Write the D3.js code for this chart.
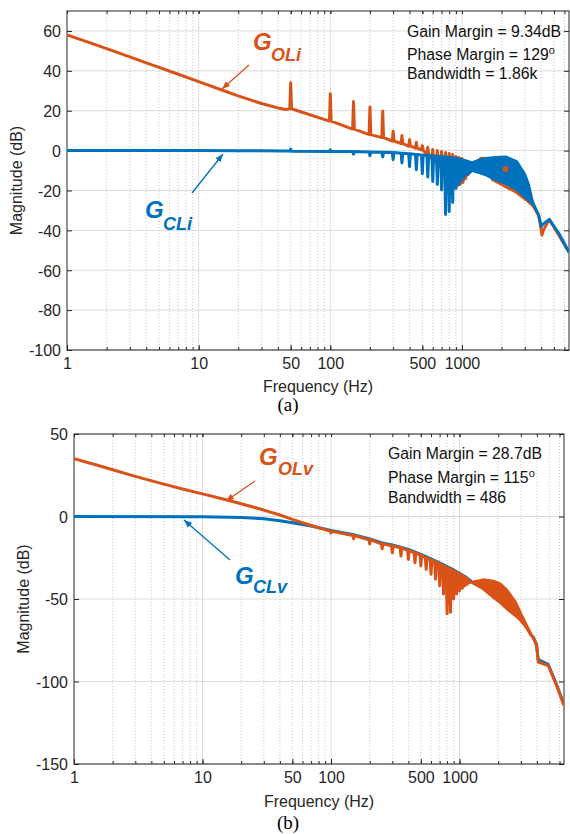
<!DOCTYPE html>
<html>
<head>
<meta charset="utf-8">
<script src="https://cdn.jsdelivr.net/npm/d3@7"></script>
<style>
body { margin: 0; background: #fff; }
svg text { font-family: Arial, 'Liberation Sans', Helvetica, sans-serif; }
</style>
</head>
<body>
<div id="chart"></div>
<script>
// ---- data ----
let freqTicks = [1, 10, 50, 100, 500, 1000];
let freqGrid = [2,3,4,5,6,7,8,9,10,20,30,40,50,60,70,80,90,100,200,300,400,500,600,700,800,900,1000,2000,3000,4000,5000,6000];
let freqMax = 6500;
let magTicksA = [60, 40, 20, 0, -20, -40, -60, -80, -100];
let magTicksB = [50, 0, -50, -100, -150];

// (a) open loop current, G_OLi
let olLowA = [[1,58],[1.5,54],[2,51.1],[3,47],[4,44],[5,41.7],[7,38.3],[10,34.6],[15,30.4],[20,27.4],[30,23.6],[40,21.4],[46,20.6]];
let harmOlA = [50,100,150,200,250,300,350,400,450,500,550,600,650,700,750,800,850,900,950,1000,1050,1100,1150,1200];
let olBaseA = [21,14.8,10.8,8,6.5,4.8,3.5,2.2,1.2,0.3,-2,-4,-6,-8,-11,-14,-17,-18,-17,-16,-14,-12,-10.5,-9.5];
let olPeakA = [34,28.5,24.6,21.9,19.8,9.7,7.6,5.5,4.2,2.5,1.7,0.5,0,-0.5,-1,-1.5,-2,-3,-3.5,-4,-5,-6,-7,-8];
let olHighA = [[1300,-5.5],[1400,-3.8],[1500,-4],[1600,-8.5],[1700,-14.5],[2000,-17],[2600,-21],[3200,-25.6],[3500,-28],[3850,-33],[4000,-40],[4050,-42.4],[4150,-40],[4600,-34.5],[5500,-43],[6500,-51]];
let olMarkA = [[2143,-9.2]];

// (a) closed loop current, G_CLi
let clLowA = [[1,0],[10,0],[20,-0.05],[30,-0.1],[45,-0.2],[49.5,-0.2],[50,0.8],[50.5,-0.3],[99,-0.4],[100,0.4],[101,-0.5],[140,-0.5]];
let harmClA = [150,200,250,300,350,400,450,500,550,600,650,700,750,800,850,900,950,1000,1050,1100,1150,1200];
let clTopA = [-0.5,-0.7,-0.8,-1,-1.3,-1.6,-2,-2.2,-2.4,-2.6,-2.8,-3,-3.2,-3.4,-3.6,-3.9,-4.2,-4.6,-5,-5.4,-5.8,-6.2];
let clNotchA = [-1.8,-2.5,-3.2,-4.5,-6.2,-8,-9.6,-11.6,-13.3,-15.5,-17,-19.7,-32,-30.6,-26,-19,-17,-15,-13,-12,-11,-10];
let clBandA = [[1200,-10,-6],[1350,-11,-4.8],[1500,-12,-4],[1800,-14.6,-3.5],[2150,-16.5,-3.2],[2600,-19.5,-5.5],[3000,-23,-12],[3200,-24.7,-17],[3400,-26,-24.7],[3500,-27,-27]];
let clHighA = [[3500,-27],[3800,-32],[4000,-38],[4100,-37],[4600,-34.5],[5500,-42],[6500,-51]];

// (b) open loop voltage, G_OLv
let olLowB = [[1,35],[1.5,31.2],[2,28.3],[3,24.3],[5,19.6],[7,16.7],[10,13.7],[15,10.3],[20,7.7],[30,3.9],[40,0.9],[50,-1.7],[60,-3.8],[80,-6.8],[97,-8.7]];
let harmB = [100,150,200,250,300,350,400,450,500,550,600,650,700,750,800,850,900,950,1000,1050,1100,1150,1200];
let olBaseB = [-8.9,-11.5,-14.1,-16.6,-17.8,-19,-20.5,-22,-23.5,-25,-26.3,-27.5,-28.7,-29.8,-31,-32,-33,-34,-35,-36,-37,-38,-39];
let olNotchB = [-10,-13.5,-16.6,-19.6,-22,-24,-26,-28,-30,-32,-35,-38,-42,-47,-59,-58,-50,-47,-45,-43.5,-42,-41,-40];
let olBandB = [[1240,-39.8,-39.8],[1530,-43.8,-38.4],[1830,-48.9,-39.2],[2070,-52,-40.8],[2340,-55.9,-44.8],[2720,-60,-51.9],[3000,-63,-59],[3300,-67,-65.5],[3600,-72,-71.5],[3720,-73,-73]];
let olHighB = [[3720,-73],[3970,-78],[4050,-84],[4100,-88.3],[4900,-90.3],[5600,-101],[6500,-114.5]];

// (b) closed loop voltage, G_CLv
let clB = [[1,0],[10,-0.1],[20,-0.6],[30,-1.4],[40,-2.6],[50,-3.8],[70,-5.8],[100,-8.4],[150,-11],[200,-13.6],[250,-16],[300,-17.2],[400,-19.9],[500,-22.9],[600,-25.7],[700,-28.1],[800,-30.4],[900,-32.4],[1000,-34.4],[1100,-36.4],[1240,-39.3]];
let clHighB = [[3720,-72.5],[3970,-77.5],[4100,-86.8],[4500,-88.3],[4900,-89.6],[5600,-100.5],[6500,-114]];

let orange = '#D95319';
let blue = '#0072BD';
let axisColor = '#262626';

// comb of narrow spikes/notches at the harmonics
function comb(harm, base, peak) {
	let pts = [];
	for (let i = 0; i < harm.length; i++) {
		pts.push([harm[i] * 0.985, base[i]]);
		pts.push([harm[i], peak[i]]);
		pts.push([harm[i] * 1.015, base[i]]);
	}
	return pts;
}

let width = 570;
let height = 834;
let svg = d3.select('#chart').append('svg')
	.attr('width', width)
	.attr('height', height);

let defs = svg.append('defs');
[['arrowOrange', orange], ['arrowBlue', blue]].forEach(function(m) {
	defs.append('marker')
		.attr('id', m[0])
		.attr('viewBox', '0 0 10 10')
		.attr('refX', 10)
		.attr('refY', 5)
		.attr('markerWidth', 8)
		.attr('markerHeight', 8)
		.attr('markerUnits', 'userSpaceOnUse')
		.attr('orient', 'auto')
		.append('path')
		.attr('d', 'M0,1 L10,5 L0,9 z')
		.attr('fill', m[1]);
});

function drawPanel(p) {
	let x = d3.scaleLog().domain([1, freqMax]).range([p.left, p.right]);
	let y = d3.scaleLinear().domain(p.yDomain).range([p.bottom, p.top]);
	let g = svg.append('g');

	defs.append('clipPath').attr('id', p.id + 'clip')
		.append('rect')
		.attr('x', p.left).attr('y', p.top)
		.attr('width', p.right - p.left).attr('height', p.bottom - p.top);

	// grid
	g.selectAll('.hgrid').data(p.yTicks).enter().append('line')
		.attr('x1', p.left).attr('x2', p.right)
		.attr('y1', d => y(d)).attr('y2', d => y(d))
		.attr('stroke', '#dcdcdc').attr('stroke-width', 1);
	g.selectAll('.vgrid').data(freqGrid).enter().append('line')
		.attr('x1', d => x(d)).attr('x2', d => x(d))
		.attr('y1', p.top).attr('y2', p.bottom)
		.attr('stroke', d => [10, 100, 1000].includes(d) ? '#dcdcdc' : '#c8c8c8')
		.attr('stroke-dasharray', d => [10, 100, 1000].includes(d) ? null : '1,2')
		.attr('stroke-width', 1);

	// axes
	let fmt = d => String(d);
	g.append('g').attr('transform', 'translate(0,' + p.bottom + ')')
		.call(d3.axisBottom(x).tickValues(freqTicks).tickFormat(fmt).tickSize(-5).tickPadding(8));
	g.append('g').attr('transform', 'translate(0,' + p.bottom + ')')
		.call(d3.axisBottom(x).tickValues(freqGrid).tickFormat('').tickSize(-3));
	g.append('g').attr('transform', 'translate(0,' + p.top + ')')
		.call(d3.axisTop(x).tickValues(freqGrid.concat(freqTicks)).tickFormat('').tickSize(-3));
	let ay = g.append('g').attr('transform', 'translate(' + p.left + ',0)')
		.call(d3.axisLeft(y).tickValues(p.yTicks).tickFormat(fmt).tickSize(-5).tickPadding(6));
	g.append('g').attr('transform', 'translate(' + p.right + ',0)')
		.call(d3.axisRight(y).tickValues(p.yTicks).tickFormat('').tickSize(-5));
	g.selectAll('.domain').remove();
	g.selectAll('.tick line').attr('stroke', axisColor);
	g.selectAll('.tick text').attr('fill', axisColor).attr('font-size', 16).attr('font-family', 'Arial, Liberation Sans, sans-serif');
	ay.selectAll('.tick text').attr('dy', '0.36em');

	g.append('rect')
		.attr('x', p.left).attr('y', p.top)
		.attr('width', p.right - p.left).attr('height', p.bottom - p.top)
		.attr('fill', 'none').attr('stroke', axisColor).attr('stroke-width', 1);

	// labels
	g.append('text')
		.attr('x', (p.left + p.right) / 2).attr('y', p.xLabelY)
		.attr('text-anchor', 'middle').attr('font-size', 16).attr('fill', axisColor)
		.text('Frequency (Hz)');
	g.append('text')
		.attr('transform', 'translate(' + p.yLabelX + ',' + (p.top + p.bottom) / 2 + ') rotate(-90)')
		.attr('text-anchor', 'middle').attr('font-size', 16).attr('fill', axisColor)
		.text('Magnitude (dB)');
	g.append('text')
		.attr('x', 288).attr('y', p.captionY)
		.attr('text-anchor', 'middle').attr('font-size', 19)
		.style('font-family', "'Times New Roman', 'Liberation Serif', serif")
		.text(p.caption);

	let info = g.append('g').attr('font-size', 15.8).attr('fill', '#111');
	info.append('text').attr('x', p.infoX).attr('y', p.infoY[0]).text(p.info[0]);
	let ph = info.append('text').attr('x', p.infoX).attr('y', p.infoY[1]).text(p.info[1]);
	ph.append('tspan').attr('dy', -6).attr('font-size', 11).text('o');
	info.append('text').attr('x', p.infoX).attr('y', p.infoY[2]).text(p.info[2]);

	let plot = g.append('g').attr('clip-path', 'url(#' + p.id + 'clip)');
	let line = d3.line().x(d => x(d[0])).y(d => y(d[1]));
	let area = d3.area().x(d => x(d[0])).y0(d => y(d[1])).y1(d => y(d[2]));

	return {x: x, y: y, plot: plot, line: line, area: area, g: g};
}

function curve(c, pts, color) {
	c.plot.append('path').datum(pts)
		.attr('d', c.line)
		.attr('fill', 'none').attr('stroke', color)
		.attr('stroke-width', 3).attr('stroke-linejoin', 'round');
}
function band(c, pts, color) {
	c.plot.append('path').datum(pts)
		.attr('d', c.area)
		.attr('fill', color).attr('stroke', color)
		.attr('stroke-width', 3).attr('stroke-linejoin', 'round');
}
function label(c, txt, sub, color, gx, gy, sx, sy, from, to) {
	c.g.append('text').attr('x', gx).attr('y', gy)
		.attr('font-size', 24).attr('font-weight', 'bold').attr('font-style', 'italic')
		.attr('fill', color).text(txt);
	c.g.append('text').attr('x', sx).attr('y', sy)
		.attr('font-size', 18).attr('font-weight', 'bold').attr('font-style', 'italic')
		.attr('fill', color).text(sub);
	c.g.append('line')
		.attr('x1', from[0]).attr('y1', from[1]).attr('x2', to[0]).attr('y2', to[1])
		.attr('stroke', color).attr('stroke-width', 1.3)
		.attr('marker-end', 'url(#' + (color === orange ? 'arrowOrange' : 'arrowBlue') + ')');
}

// ---- panel (a) ----
let a = drawPanel({
	id: 'a', left: 67, right: 569, top: 11, bottom: 350,
	yDomain: [-100, 70], yTicks: magTicksA,
	xLabelY: 392, yLabelX: 22, caption: '(a)', captionY: 411,
	infoX: 407, infoY: [37, 60, 79],
	info: ['Gain Margin = 9.34dB', 'Phase Margin = 129', 'Bandwidth = 1.86k']
});
curve(a, olLowA.concat(comb(harmOlA, olBaseA, olPeakA), olHighA), orange);
curve(a, clLowA.concat(comb(harmClA, clTopA, clNotchA)), blue);
band(a, clBandA, blue);
curve(a, clHighA, blue);
a.plot.selectAll('.mark').data(olMarkA).enter().append('circle')
	.attr('cx', d => a.x(d[0])).attr('cy', d => a.y(d[1]))
	.attr('r', 3).attr('fill', orange);
label(a, 'G', 'OLi', orange, 253, 50, 271, 61, [249, 65], [222, 89]);
label(a, 'G', 'CLi', blue, 145, 218, 163, 230, [192, 193], [223, 154]);

// ---- panel (b) ----
let b = drawPanel({
	id: 'b', left: 74, right: 564, top: 434, bottom: 764,
	yDomain: [-150, 50], yTicks: magTicksB,
	xLabelY: 807, yLabelX: 29, caption: '(b)', captionY: 829,
	infoX: 388, infoY: [459, 483, 503],
	info: ['Gain Margin = 28.7dB', 'Phase Margin = 115', 'Bandwidth = 486']
});
curve(b, clB, blue);
curve(b, clHighB, blue);
curve(b, olLowB.concat(comb(harmB, olBaseB, olNotchB)), orange);
band(b, olBandB, orange);
curve(b, olHighB, orange);
label(b, 'G', 'OLv', orange, 259, 465, 278, 475, [255, 481], [226, 501]);
label(b, 'G', 'CLv', blue, 235, 584, 253, 593, [230, 560], [184, 520]);
</script>
</body>
</html>
